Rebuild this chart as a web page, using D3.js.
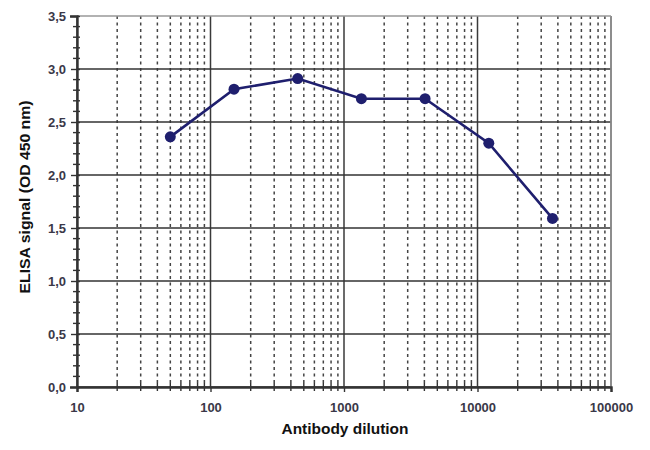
<!DOCTYPE html>
<html><head><meta charset="utf-8">
<script src="https://cdn.jsdelivr.net/npm/d3@7"></script>
<style>body{margin:0;background:#fff}svg{display:block}</style>
</head><body>
<svg id="c" width="650" height="450"></svg>
<script>
const dilutions = [50, 150, 450, 1350, 4050, 12150, 36450];
const signal = [2.36, 2.81, 2.91, 2.72, 2.72, 2.30, 1.59];
const xTickValues = [10, 100, 1000, 10000, 100000];
const yTickValues = [0, 0.5, 1.0, 1.5, 2.0, 2.5, 3.0, 3.5];
const xTitle = "Antibody dilution";
const yTitle = "ELISA signal (OD 450 nm)";

const svg = d3.select("#c");
const L = 77, R = 611, T = 16, B = 387;
const x = d3.scaleLog().domain([10, 100000]).range([L, R]);
const y = d3.scaleLinear().domain([0, 3.5]).range([B, T]);
const fmt = d => d.toFixed(1).replace(".", ",");
const FONT = "Liberation Sans, Arial, sans-serif";

// minor vertical grid
const minors = [];
for (let e = 1; e < 5; e++) for (let k = 2; k <= 9; k++) minors.push(k * Math.pow(10, e));
svg.append("g").selectAll("line").data(minors).join("line")
  .attr("x1", d => x(d)).attr("x2", d => x(d)).attr("y1", T).attr("y2", B)
  .attr("stroke", "#444").attr("stroke-width", 1.5).attr("stroke-dasharray", "3,3.5");

// major vertical grid
svg.append("g").selectAll("line").data(xTickValues).join("line")
  .attr("x1", d => x(d)).attr("x2", d => x(d)).attr("y1", T).attr("y2", B)
  .attr("stroke", "#3a3a3a").attr("stroke-width", 1.5);

// horizontal grid
svg.append("g").selectAll("line").data(yTickValues).join("line")
  .attr("x1", L).attr("x2", R).attr("y1", d => y(d)).attr("y2", d => y(d))
  .attr("stroke", d => d === 3.5 ? "#999" : "#333").attr("stroke-width", 1.5);
svg.append("line").attr("x1", R).attr("x2", R).attr("y1", T).attr("y2", B)
  .attr("stroke", "#999").attr("stroke-width", 1.5);

// y axis
const yAxis = svg.append("g").attr("transform", `translate(${L},0)`)
  .call(d3.axisLeft(y).tickValues(yTickValues).tickFormat(fmt).tickSize(7).tickPadding(4));
const yMinor = d3.range(0, 36).map(i => i / 10).filter(v => Math.round(v * 10) % 5 !== 0);
svg.append("g").selectAll("line").data(yMinor).join("line")
  .attr("x1", L - 4).attr("x2", L + 3).attr("y1", d => y(d)).attr("y2", d => y(d))
  .attr("stroke", "#333").attr("stroke-width", 1.4);

// x axis
const xAxis = svg.append("g").attr("transform", `translate(0,${B})`)
  .call(d3.axisBottom(x).tickValues(xTickValues).tickFormat(d3.format("d")).tickSize(5).tickPadding(11));
svg.append("g").selectAll("line").data(minors).join("line")
  .attr("x1", d => x(d)).attr("x2", d => x(d)).attr("y1", B - 4).attr("y2", B + 4)
  .attr("stroke", "#333").attr("stroke-width", 1.4);

[xAxis, yAxis].forEach(a => {
  a.select(".domain").attr("stroke", "#333").attr("stroke-width", 2.4);
  a.selectAll(".tick line").attr("stroke", "#333").attr("stroke-width", 1.4);
  a.selectAll("text").attr("font-family", FONT)
    .attr("font-size", 13).attr("font-weight", "bold").attr("fill", "#3a3848");
});
yAxis.selectAll(".tick line").attr("x2", -6).attr("x1", 3);

// line + points
const line = d3.line().x((d, i) => x(dilutions[i])).y(d => y(d));
svg.append("path").datum(signal).attr("d", line)
  .attr("fill", "none").attr("stroke", "#1f1f6e").attr("stroke-width", 2.6);
svg.append("g").selectAll("circle").data(signal).join("circle")
  .attr("cx", (d, i) => x(dilutions[i])).attr("cy", d => y(d)).attr("r", 5.5)
  .attr("fill", "#1f1f6e");

// titles
svg.append("text").attr("x", 345).attr("y", 434).attr("text-anchor", "middle")
  .attr("font-family", FONT).attr("font-size", 14)
  .attr("textLength", 127).attr("lengthAdjust", "spacingAndGlyphs")
  .attr("font-weight", "bold").attr("fill", "#111").text(xTitle);
svg.append("text").attr("transform", `translate(30,197) rotate(-90)`)
  .attr("text-anchor", "middle")
  .attr("font-family", FONT).attr("font-size", 14)
  .attr("textLength", 193).attr("lengthAdjust", "spacingAndGlyphs")
  .attr("font-weight", "bold").attr("fill", "#111").text(yTitle);
</script>
</body></html>
